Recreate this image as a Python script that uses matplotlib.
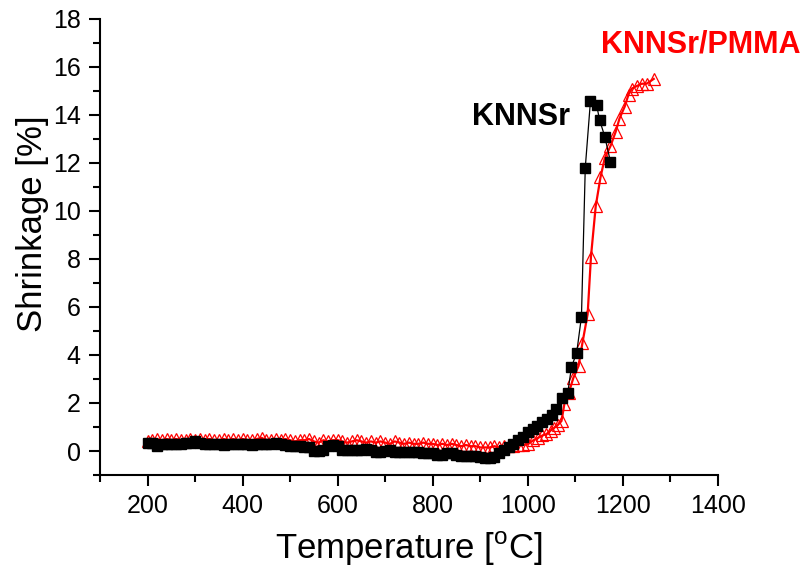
import matplotlib
matplotlib.use("Agg")
import matplotlib.pyplot as plt
from matplotlib.ticker import MultipleLocator

plt.rcParams['font.family'] = ['Liberation Sans', 'DejaVu Sans']
plt.rcParams['mathtext.fontset'] = 'custom'
plt.rcParams['mathtext.rm'] = 'Liberation Sans'

# KNNSr (black squares)
knn_t = [200, 210, 220, 230, 240, 250, 260, 270, 280, 290,
         300, 310, 320, 330, 340, 350, 360, 370, 380, 390,
         400, 410, 420, 430, 440, 450, 460, 470, 480, 490,
         500, 510, 520, 530, 540, 550, 560, 570, 580, 590,
         600, 610, 620, 630, 640, 650, 660, 670, 680, 690,
         700, 710, 720, 730, 740, 750, 760, 770, 780, 790,
         800, 810, 820, 830, 840, 850, 860, 870, 880, 890,
         900, 910, 920, 930, 940, 950, 960, 970, 980, 990,
         1000, 1010, 1020, 1030, 1040, 1050, 1060, 1071, 1084, 1092,
         1103, 1113, 1121, 1132, 1145, 1151, 1162, 1174]
knn_s = [0.35, 0.35, 0.2, 0.3, 0.3, 0.3, 0.3, 0.3, 0.35, 0.35,
         0.4, 0.35, 0.3, 0.3, 0.3, 0.3, 0.25, 0.3, 0.3, 0.3,
         0.3, 0.3, 0.25, 0.3, 0.3, 0.3, 0.3, 0.35, 0.3, 0.25,
         0.2, 0.2, 0.2, 0.15, 0.15, 0.0, 0.0, 0.05, 0.2, 0.25,
         0.2, 0.05, 0.05, 0.05, 0.05, 0.05, 0.1, 0.05, -0.05, -0.05,
         0.0, 0.05, -0.05, -0.05, -0.05, -0.05, -0.05, -0.05, -0.1, -0.1,
         -0.1, -0.15, -0.15, -0.1, -0.1, -0.15, -0.2, -0.2, -0.2, -0.2,
         -0.25, -0.3, -0.3, -0.25, -0.1, 0.05, 0.15, 0.3, 0.45, 0.6,
         0.8, 0.9, 1.05, 1.2, 1.35, 1.5, 1.75, 2.2, 2.4, 3.5,
         4.1, 5.6, 11.8, 14.6, 14.4, 13.8, 13.1, 12.05]

# KNNSr/PMMA (red open triangles)
pmma_t = [200, 210, 220, 230, 240, 250, 260, 270, 280, 290,
          300, 310, 320, 330, 340, 350, 360, 370, 380, 390,
          400, 410, 420, 430, 440, 450, 460, 470, 480, 490,
          500, 510, 520, 530, 540, 550, 560, 570, 580, 590,
          600, 610, 620, 630, 640, 650, 660, 670, 680, 690,
          700, 710, 720, 730, 740, 750, 760, 770, 780, 790,
          800, 810, 820, 830, 840, 850, 860, 870, 880, 890,
          900, 910, 920, 930, 940, 950, 960, 970, 980, 990,
          1001, 1012, 1022, 1031, 1039, 1048, 1056, 1064, 1071, 1077,
          1086, 1096, 1107, 1115, 1126, 1133, 1143, 1153, 1162, 1174,
          1185, 1193, 1204, 1212, 1219, 1229, 1240, 1250, 1265]
pmma_s = [0.4, 0.45, 0.5, 0.45, 0.5, 0.45, 0.5, 0.45, 0.45, 0.5,
          0.45, 0.5, 0.45, 0.5, 0.45, 0.45, 0.5, 0.45, 0.5, 0.45,
          0.5, 0.45, 0.45, 0.5, 0.55, 0.45, 0.45, 0.5, 0.45, 0.5,
          0.45, 0.4, 0.45, 0.45, 0.5, 0.4, 0.35, 0.45, 0.4, 0.45,
          0.45, 0.4, 0.35, 0.4, 0.45, 0.4, 0.35, 0.4, 0.35, 0.4,
          0.35, 0.3, 0.4, 0.35, 0.3, 0.35, 0.3, 0.3, 0.35, 0.3,
          0.3, 0.25, 0.3, 0.25, 0.3, 0.25, 0.2, 0.25, 0.2, 0.2,
          0.15, 0.15, 0.15, 0.2, 0.15, 0.2, 0.2, 0.2, 0.25, 0.25,
          0.3, 0.45, 0.55, 0.65, 0.7, 0.85, 0.97, 1.1, 1.25, 1.95,
          2.4, 3.05, 3.55, 4.5, 5.7, 8.1, 10.2, 11.4, 12.2, 12.7,
          13.3, 13.85, 14.35, 14.85, 15.1, 15.2, 15.3, 15.3, 15.5]

fig = plt.figure(figsize=(8.03, 5.73), dpi=100)
ax = fig.add_axes([0.1245, 0.171, 0.7695, 0.796])

ax.plot(pmma_t, pmma_s, color='red', lw=1.6, marker='^', ms=8.5,
        mfc='none', mec='red', mew=0.9)
ax.plot(knn_t, knn_s, color='black', lw=0.9, marker='s', ms=7,
        mfc='black', mec='black')

ax.set_xlim(100, 1400)
ax.set_ylim(-1, 18)
ax.xaxis.set_major_locator(MultipleLocator(200))
ax.xaxis.set_minor_locator(MultipleLocator(100))
ax.yaxis.set_major_locator(MultipleLocator(2))
ax.yaxis.set_minor_locator(MultipleLocator(1))
ax.set_xticks(range(200, 1401, 200))

for side in ['top', 'right']:
    ax.spines[side].set_visible(False)
for side in ['left', 'bottom']:
    ax.spines[side].set_linewidth(1.5)

ax.tick_params(which='major', direction='out', length=8, width=1.5,
               labelsize=18, pad=6)
ax.tick_params(which='minor', direction='out', length=5, width=1.5)

ax.set_xlabel(r'Temperature [$^{\mathrm{o}}$C]', fontsize=25, labelpad=8)
ax.set_ylabel('Shrinkage [%]', fontsize=25)
ax.yaxis.set_label_coords(-0.082, 0.55)

ax.text(985, 13.9, 'KNNSr', fontsize=22, fontweight='bold',
        color='black', ha='center', va='center')
ax.text(1365, 16.95, 'KNNSr/PMMA', fontsize=22, fontweight='bold',
        color='red', ha='center', va='center', clip_on=False)

plt.savefig("out.png", dpi=100)
plt.close(fig)
